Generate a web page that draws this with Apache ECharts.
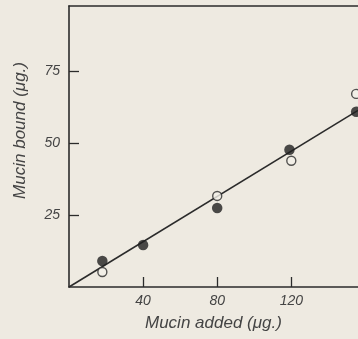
<!DOCTYPE html>
<html>
<head>
<meta charset="utf-8">
<script src="https://cdn.jsdelivr.net/npm/echarts@6/dist/echarts.min.js"></script>
<style>
  html, body { margin: 0; padding: 0; background: #eeeae1; }
  #chart { width: 358px; height: 339px; }
</style>
</head>
<body>
<div id="chart"></div>
<script>
// mucin added (ug) vs mucin bound (ug)
const filledX = [18, 40, 80, 119, 155];
const filledY = [9, 14.6, 27.4, 47.6, 60.8];
const openX = [18, 80, 120, 155];
const openY = [5.2, 31.6, 43.8, 67];
const fitX = [0, 156];
const fitY = [0, 61.3];
const xTicks = [40, 80, 120];
const yTicks = [25, 50, 75];

const ink = '#2b2b2b';
const labelFont = { fontFamily: 'Liberation Sans', fontStyle: 'italic', fontSize: 14, color: '#444' };

const myChart = echarts.init(document.getElementById('chart'));
myChart.setOption({
  backgroundColor: '#eeeae1',
  animation: false,
  grid: { left: 69, top: 6, right: 0, bottom: 52 },
  xAxis: [
    {
      type: 'value', min: 0, max: 156, interval: 40,
      axisLine: { lineStyle: { color: ink, width: 1.6 } },
      axisTick: { inside: true, length: 10, lineStyle: { color: ink, width: 1.3 }, customValues: xTicks },
      axisLabel: Object.assign({ margin: 7, customValues: xTicks }, labelFont),
      splitLine: { show: false }
    },
    {
      type: 'value', position: 'top', min: 0, max: 156,
      axisLine: { show: true, lineStyle: { color: ink, width: 1.6 } },
      axisTick: { show: false }, axisLabel: { show: false }, splitLine: { show: false }
    }
  ],
  yAxis: {
    type: 'value', min: 0, max: 97.5, interval: 25,
    axisLine: { lineStyle: { color: ink, width: 1.6 } },
    axisTick: { inside: true, length: 10, lineStyle: { color: ink, width: 1.3 }, customValues: yTicks },
    axisLabel: Object.assign({ margin: 9, customValues: yTicks }, labelFont),
    splitLine: { show: false }
  },
  graphic: [
    {
      type: 'text', left: 12, top: 62, rotation: Math.PI / 2,
      style: { text: 'Mucin bound (μg.)', fill: '#444', font: 'italic 17px "Liberation Sans"' }
    },
    {
      type: 'text', left: 145, top: 315,
      style: { text: 'Mucin added (μg.)', fill: '#444', font: 'italic 17px "Liberation Sans"' }
    }
  ],
  series: [
    {
      type: 'line', data: fitX.map((x, i) => [x, fitY[i]]),
      showSymbol: false, lineStyle: { color: ink, width: 1.6 }, z: 2
    },
    {
      type: 'scatter', data: openX.map((x, i) => [x, openY[i]]),
      symbolSize: 9, clip: false,
      itemStyle: { color: '#f3f0e9', borderColor: ink, borderWidth: 1.4 }, z: 3
    },
    {
      type: 'scatter', data: filledX.map((x, i) => [x, filledY[i]]),
      symbolSize: 10.5, clip: false,
      itemStyle: { color: '#1f1f1f' }, z: 4
    }
  ]
});
</script>
</body>
</html>
